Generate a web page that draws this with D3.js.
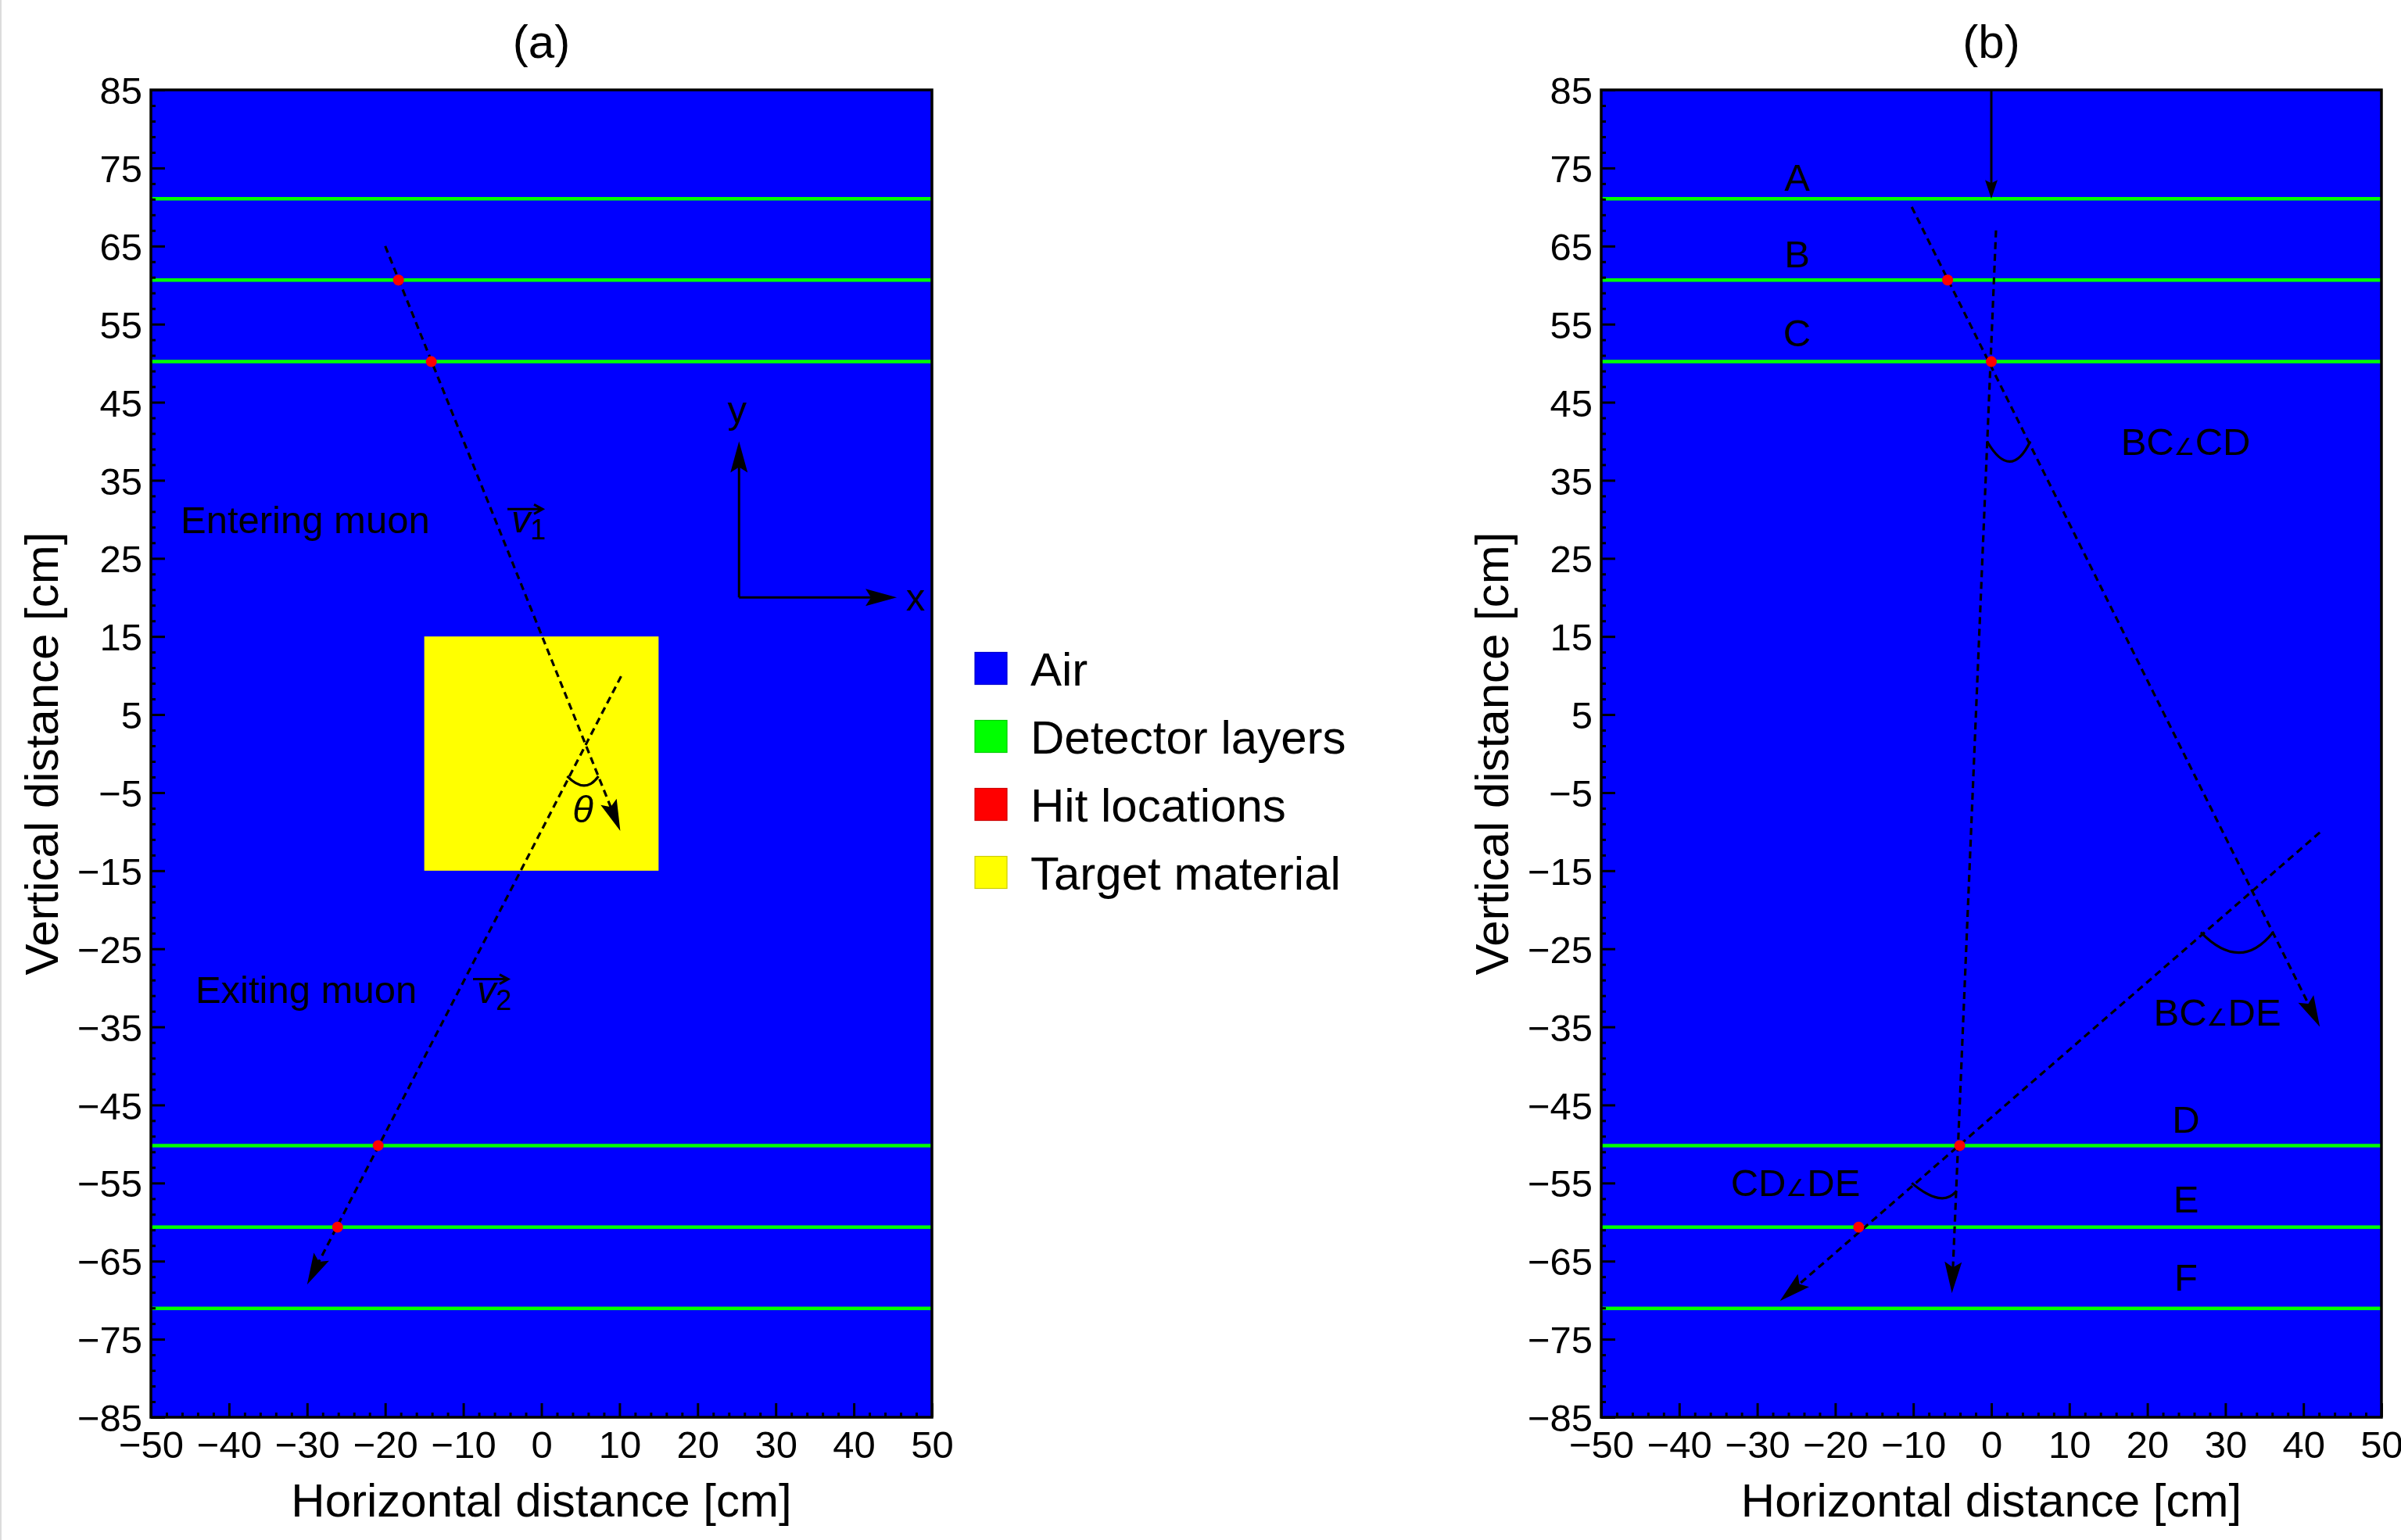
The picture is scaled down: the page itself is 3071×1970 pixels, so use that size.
<!DOCTYPE html>
<html lang="en">
<head>
<meta charset="utf-8">
<title>Muon scattering tracks</title>
<script src="https://cdn.jsdelivr.net/npm/d3@7"></script>
<style>
  body { margin: 0; background: #fff; }
</style>
</head>
<body>
<svg id="chart" width="3071" height="1970"></svg>
<script>
// ---- data (cm) ----
const xTicks = [-50, -40, -30, -20, -10, 0, 10, 20, 30, 40, 50];
const yTicks = [85, 75, 65, 55, 45, 35, 25, 15, 5, -5, -15, -25, -35, -45, -55, -65, -75, -85];
const layerY = [71.05, 60.65, 50.2, -50.2, -60.65, -71.05];
const targetX = [-15, 15];
const targetY = [-15, 15];
const legendNames = ["Air", "Detector layers", "Hit locations", "Target material"];

// panel (a)
const trackA1 = [[-20, 65], [10.1, -9.9]];
const trackA2 = [[10.2, 9.9], [-30, -68]];
const hitsA = [[-18.3, 60.65], [-14.1, 50.2], [-20.9, -50.2], [-26.1, -60.65]];
const arcA = [[3.3, -2.9], [5.45, -4.1], [7.3, -2.9]];
const frameAxesA = { corner: [25.3, 20], xTip: [45.5, 20], yTip: [25.3, 40] };

// panel (b)
const arrowInB = [[0, 85], [0, 71.05]];
const trackBC = [[-10.2, 70], [42.1, -35]];
const trackCD = [[0.6, 67], [-5.05, -69.1]];
const trackDE = [[42.1, -10.1], [-27.1, -70.1]];
const hitsB = [[-5.6, 60.65], [0, 50.2], [-4.05, -50.2], [-17.0, -60.65]];
const arcsB = [
  [[-0.55, 40], [2.35, 37.4], [5.0, 40]],
  [[26.85, -22.9], [31.7, -25.5], [36.1, -22.9]],
  [[-10.2, -55.0], [-6.8, -56.9], [-4.45, -56.0]]
];
const layerLabels = [
  { t: "A", x: -24.9, y: 72.1 }, { t: "B", x: -24.9, y: 62.3 }, { t: "C", x: -24.9, y: 52.2 },
  { t: "D", x: 24.95, y: -48.6 }, { t: "E", x: 24.95, y: -58.8 }, { t: "F", x: 24.95, y: -68.75 }
];
const angleLabels = [
  { a: "BC", b: "CD", x: 16.6, y: 38.2 },
  { a: "BC", b: "DE", x: 20.8, y: -34.8 },
  { a: "CD", b: "DE", x: -33.4, y: -56.7 }
];

// ---- styles ----
const FONT = '"Liberation Sans", Arial, sans-serif';
const colors = { Air: "#0000ff", "Detector layers": "#00ff00", "Hit locations": "#ff0000", "Target material": "#ffff00" };
const plotTop = 115, plotBottom = 1813;

const svg = d3.select("#chart").attr("font-family", FONT);

svg.append("line").attr("x1", 1).attr("x2", 1).attr("y1", 0).attr("y2", 1970)
  .attr("stroke", "#dcdcdc").attr("stroke-width", 2);

function makePanel(left, right, title) {
  const x = d3.scaleLinear().domain([-50, 50]).range([left, right]);
  const y = d3.scaleLinear().domain([-85, 85]).range([plotBottom, plotTop]);
  const g = svg.append("g");
  g.append("rect").attr("x", left).attr("y", plotTop)
    .attr("width", right - left).attr("height", plotBottom - plotTop)
    .attr("fill", colors.Air);
  return { x, y, g, left, right, title };
}

function drawLayers(p) {
  p.g.selectAll(".layer").data(layerY).enter().append("line")
    .attr("class", "layer")
    .attr("x1", p.left).attr("x2", p.right)
    .attr("y1", d => p.y(d)).attr("y2", d => p.y(d))
    .attr("stroke", colors["Detector layers"]).attr("stroke-width", 4.5);
}

// arrow: line + notched head, drawn in pixel space from data points
function arrow(p, pts, opt) {
  const o = Object.assign({ dash: null, len: 40, half: 11, notch: 7, width: 3.2, head: true }, opt);
  const x1 = p.x(pts[0][0]), y1 = p.y(pts[0][1]);
  const x2 = p.x(pts[1][0]), y2 = p.y(pts[1][1]);
  const dx = x2 - x1, dy = y2 - y1, L = Math.hypot(dx, dy);
  const ux = dx / L, uy = dy / L, nx = -uy, ny = ux;
  const cut = o.head ? (o.len - o.notch) * 0.8 : 0;
  p.g.append("line")
    .attr("x1", x1).attr("y1", y1)
    .attr("x2", x2 - ux * cut).attr("y2", y2 - uy * cut)
    .attr("stroke", "#000").attr("stroke-width", o.width)
    .attr("stroke-dasharray", o.dash);
  if (!o.head) return;
  const bx = x2 - ux * o.len, by = y2 - uy * o.len;
  const mx = x2 - ux * (o.len - o.notch), my = y2 - uy * (o.len - o.notch);
  const head = [[x2, y2], [bx + nx * o.half, by + ny * o.half], [mx, my], [bx - nx * o.half, by - ny * o.half]];
  p.g.append("path").attr("d", "M" + head.map(q => q.join(",")).join("L") + "Z").attr("fill", "#000");
}

function angleArc(p, pts) {
  const [a, m, b] = pts.map(q => [p.x(q[0]), p.y(q[1])]);
  const cx = 2 * m[0] - (a[0] + b[0]) / 2, cy = 2 * m[1] - (a[1] + b[1]) / 2;
  const path = d3.path();
  path.moveTo(a[0], a[1]);
  path.quadraticCurveTo(cx, cy, b[0], b[1]);
  p.g.append("path").attr("d", path.toString())
    .attr("fill", "none").attr("stroke", "#000").attr("stroke-width", 3.2);
}

function drawHits(p, hits) {
  p.g.selectAll(".hit").data(hits).enter().append("circle")
    .attr("class", "hit")
    .attr("cx", d => p.x(d[0])).attr("cy", d => p.y(d[1]))
    .attr("r", 7).attr("fill", colors["Hit locations"]);
}

function label(p, txt, xv, yv, opt) {
  const o = Object.assign({ size: 49, anchor: "start", italic: false }, opt);
  return p.g.append("text").attr("x", p.x(xv)).attr("y", p.y(yv))
    .attr("font-size", o.size).attr("text-anchor", o.anchor)
    .attr("font-style", o.italic ? "italic" : null).text(txt);
}

function vecLabel(p, sub, xv, yv) {
  const X = p.x(xv), Y = p.y(yv);
  const t = p.g.append("text").attr("x", X).attr("y", Y).attr("font-size", 49);
  t.append("tspan").attr("font-style", "italic").text("v");
  t.append("tspan").attr("font-size", 36).attr("dy", 9).text(sub);
  const ay = Y - 30, ax1 = X - 5, ax2 = X + 40;
  p.g.append("path")
    .attr("d", `M${ax1},${ay}L${ax2},${ay}M${ax2 - 11},${ay - 6}L${ax2},${ay}L${ax2 - 11},${ay + 6}`)
    .attr("fill", "none").attr("stroke", "#000").attr("stroke-width", 3);
}

function drawAxes(p) {
  const fmt = d3.format("d");
  const minorX = d3.range(-50, 51, 2).filter(v => v % 10 !== 0);
  const minorY = d3.range(-85, 86, 2).filter(v => (v - 85) % 10 !== 0);

  const gx = p.g.append("g").attr("transform", `translate(0,${plotBottom})`)
    .call(d3.axisBottom(p.x).tickValues(xTicks).tickSize(-18).tickPadding(17).tickFormat(fmt));
  const gxm = p.g.append("g").attr("transform", `translate(0,${plotBottom})`)
    .call(d3.axisBottom(p.x).tickValues(minorX).tickSize(-6).tickFormat(""));
  const gy = p.g.append("g").attr("transform", `translate(${p.left},0)`)
    .call(d3.axisLeft(p.y).tickValues(yTicks).tickSize(-18).tickPadding(11).tickFormat(fmt));
  const gym = p.g.append("g").attr("transform", `translate(${p.left},0)`)
    .call(d3.axisLeft(p.y).tickValues(minorY).tickSize(-6).tickFormat(""));

  [gx, gxm, gy, gym].forEach(a => {
    a.select(".domain").remove();
    a.attr("font-family", FONT).attr("font-size", 49);
    a.selectAll("line").attr("stroke-width", 3);
    a.selectAll("text").attr("fill", "#000");
  });
  gy.selectAll("text").attr("dy", "0.36em");

  p.g.append("rect").attr("x", p.left).attr("y", plotTop)
    .attr("width", p.right - p.left).attr("height", plotBottom - plotTop)
    .attr("fill", "none").attr("stroke", "#000").attr("stroke-width", 3.5);

  const cx = (p.left + p.right) / 2;
  p.g.append("text").attr("x", cx).attr("y", 74).attr("text-anchor", "middle")
    .attr("font-size", 60).text(p.title);
  p.g.append("text").attr("x", cx).attr("y", 1940).attr("text-anchor", "middle")
    .attr("font-size", 60).text("Horizontal distance [cm]");
  p.g.append("text")
    .attr("transform", `translate(${p.left - 119},${(plotTop + plotBottom) / 2}) rotate(-90)`)
    .attr("text-anchor", "middle").attr("font-size", 60).text("Vertical distance [cm]");
}

// ---- panel (a) ----
const pa = makePanel(193, 1192, "(a)");
pa.g.append("rect")
  .attr("x", pa.x(targetX[0])).attr("y", pa.y(targetY[1]))
  .attr("width", pa.x(targetX[1]) - pa.x(targetX[0]))
  .attr("height", pa.y(targetY[0]) - pa.y(targetY[1]))
  .attr("fill", colors["Target material"]);
drawLayers(pa);
arrow(pa, trackA1, { dash: "9,6" });
arrow(pa, trackA2, { dash: "9,6" });
angleArc(pa, arcA);
drawHits(pa, hitsA);
arrow(pa, [frameAxesA.corner, frameAxesA.yTip], { width: 3 });
arrow(pa, [frameAxesA.corner, frameAxesA.xTip], { width: 3 });
label(pa, "y", 25.05, 42.3, { anchor: "middle" });
label(pa, "x", 47.9, 18.3, { anchor: "middle" });
label(pa, "Entering muon", -46.2, 28.2);
label(pa, "Exiting muon", -44.3, -31.9);
vecLabel(pa, "1", -3.85, 28.3);
vecLabel(pa, "2", -8.26, -31.9);
label(pa, "\u03b8", 5.3, -8.8, { anchor: "middle", italic: true });
drawAxes(pa);

// ---- panel (b) ----
const pb = makePanel(2048, 3046, "(b)");
drawLayers(pb);
arrow(pb, arrowInB, { width: 3, len: 24, half: 8, notch: 4 });
arrow(pb, trackBC, { dash: "9,6" });
arrow(pb, trackCD, { dash: "9,6" });
arrow(pb, trackDE, { dash: "9,6" });
arcsB.forEach(a => angleArc(pb, a));
drawHits(pb, hitsB);
layerLabels.forEach(d => label(pb, d.t, d.x, d.y, { anchor: "middle" }));
angleLabels.forEach(d => {
  const t = label(pb, "", d.x, d.y);
  t.append("tspan").text(d.a);
  t.append("tspan").attr("font-family", '"DejaVu Sans"').attr("font-size", 30).text("\u2220");
  t.append("tspan").text(d.b);
});
drawAxes(pb);

// ---- legend ----
const legend = svg.append("g").attr("transform", "translate(1247,855)");
legend.selectAll(".legend-item").data(legendNames).enter().append("g")
  .attr("class", "legend-item")
  .attr("transform", (d, i) => `translate(0,${i * 87})`)
  .call(g => {
    g.append("rect").attr("x", 0).attr("y", -20.5).attr("width", 41).attr("height", 41)
      .attr("fill", d => colors[d])
      .attr("stroke", d => d3.color(colors[d]).darker(0.6)).attr("stroke-width", 1.2);
    g.append("text").attr("x", 71).attr("y", 22).attr("font-size", 60).text(d => d);
  });
</script>
</body>
</html>
